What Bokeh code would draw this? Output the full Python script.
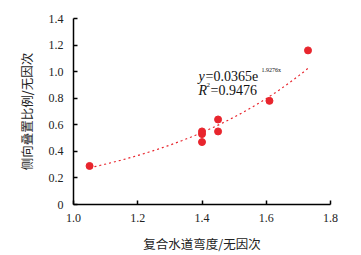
import numpy as np
from bokeh.plotting import figure
from bokeh.models import Range1d, Label, CustomJSTickFormatter, FixedTicker
from bokeh.embed import file_html
from bokeh.resources import INLINE

# data
sinuosity = [1.05, 1.40, 1.40, 1.40, 1.45, 1.45, 1.61, 1.73]
overlap = [0.29, 0.55, 0.53, 0.47, 0.64, 0.55, 0.78, 1.16]
fit_a = 0.0365
fit_b = 1.9276
x_ticks = [1.0, 1.2, 1.4, 1.6, 1.8]
y_ticks = [0, 0.2, 0.4, 0.6, 0.8, 1.0, 1.2, 1.4]

RED = "#e8252d"
p = figure(width=361, height=255, output_backend="svg", toolbar_location=None,
           x_range=Range1d(1.0, 1.8), y_range=Range1d(0, 1.4),
           min_border_left=73, min_border_right=31, min_border_top=18, min_border_bottom=50)
p.outline_line_color = None
p.grid.visible = False
p.background_fill_color = "white"
p.border_fill_color = "white"

# trend line
fx = np.linspace(min(sinuosity), max(sinuosity), 100)
fy = fit_a * np.exp(fit_b * fx)
p.line(fx, fy, line_color=RED, line_width=1.2, line_dash="2 3")
p.scatter(sinuosity, overlap, size=7, fill_color=RED, line_color=RED)

for ax in (p.xaxis[0], p.yaxis[0]):
    ax.axis_line_color = "black"
    ax.axis_line_width = 1.5
    ax.major_tick_in = 4
    ax.major_tick_out = 0
    ax.major_tick_line_width = 1.5
    ax.minor_tick_line_color = None
    ax.major_label_text_font = "Liberation Serif"
    ax.major_label_text_font_size = "12px"
    ax.major_label_text_color = "#222222"
    ax.axis_label_text_font = "Noto Sans CJK SC"
    ax.axis_label_text_font_size = "12.5px"
    ax.axis_label_text_font_style = "normal"
    ax.axis_label_text_color = "#222222"

p.xaxis.ticker = FixedTicker(ticks=x_ticks)
p.yaxis.ticker = FixedTicker(ticks=y_ticks)
p.xaxis.formatter = CustomJSTickFormatter(code="return tick.toFixed(1);")
p.yaxis.formatter = CustomJSTickFormatter(code="return tick == 0 ? '0' : tick.toFixed(1);")
p.xaxis.major_label_standoff = 9
p.yaxis.major_label_standoff = 10
p.xaxis.axis_label = "复合水道弯度/无因次"
p.yaxis.axis_label = "侧向叠置比例/无因次"
p.xaxis.axis_label_standoff = 9
p.yaxis.axis_label_standoff = 10

# positions in screen px relative to the plot frame (left=73, bottom=205)
def lab(x, y, t, size="14px", style="normal"):
    p.add_layout(Label(x=x, y=y, x_units="screen", y_units="screen", text=t,
                       text_font="Liberation Serif", text_font_size=size,
                       text_font_style=style, text_color="#111111",
                       text_baseline="alphabetic"))

lab(125, 128, "y", style="italic")
lab(132, 128, "=0.0365e")
lab(188, 135, "1.9276x", size="6px")
lab(125, 114, "R", style="italic")
lab(133, 120, "2", size="7px")
lab(137, 114, "=0.9476")

open("out.html", "w").write(file_html(p, INLINE))
